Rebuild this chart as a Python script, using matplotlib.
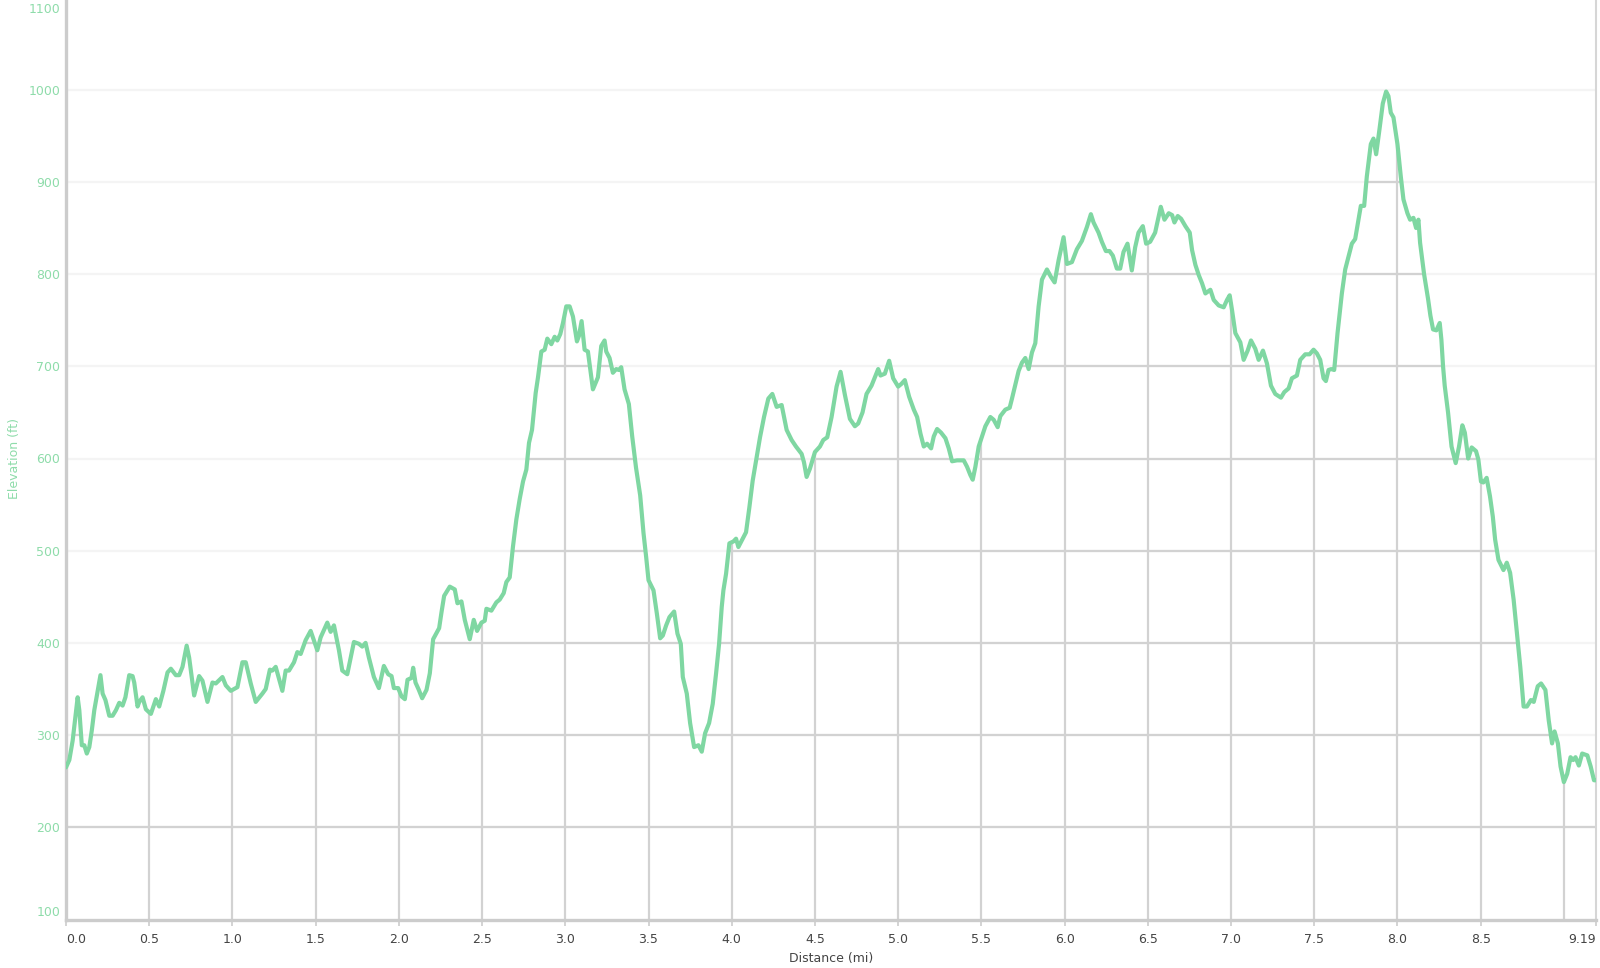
import numpy as np
import matplotlib
matplotlib.use("Agg")
import matplotlib.pyplot as plt
from matplotlib.patches import Polygon
from matplotlib.transforms import ScaledTranslation

# ---- data (distance in miles, elevation in feet) ----
distance = [
    0.00, 0.02, 0.04, 0.07, 0.08, 0.095, 0.11, 0.125, 0.14, 0.155, 0.17, 0.207, 0.22, 0.237,
    0.26, 0.28, 0.30, 0.32, 0.34, 0.357, 0.38, 0.40, 0.41, 0.43, 0.44, 0.46, 0.48, 0.51,
    0.54, 0.56, 0.585, 0.61, 0.63, 0.66, 0.68, 0.70, 0.725, 0.74, 0.77, 0.80, 0.82, 0.85,
    0.88, 0.90, 0.94, 0.96, 0.99, 1.03, 1.06, 1.08, 1.11, 1.14, 1.18, 1.20, 1.225, 1.24,
    1.26, 1.28, 1.30, 1.32, 1.34, 1.37, 1.39, 1.41, 1.44, 1.47, 1.51, 1.53, 1.57, 1.59,
    1.61, 1.64, 1.66, 1.69, 1.73, 1.76, 1.78, 1.80, 1.82, 1.85, 1.88, 1.91, 1.936, 1.956,
    1.97, 1.996, 2.016, 2.036, 2.052, 2.076, 2.086, 2.10, 2.12, 2.14, 2.166, 2.186, 2.206,
    2.242, 2.256, 2.272, 2.306, 2.336, 2.352, 2.376, 2.396, 2.426, 2.45, 2.47, 2.496, 2.516,
    2.526, 2.556, 2.586, 2.606, 2.63, 2.646, 2.666, 2.686, 2.706, 2.726, 2.746, 2.766, 2.782,
    2.80, 2.822, 2.836, 2.856, 2.876, 2.892, 2.916, 2.936, 2.952, 2.97, 2.986, 3.006, 3.026,
    3.046, 3.07, 3.082, 3.098, 3.116, 3.136, 3.166, 3.196, 3.216, 3.236, 3.246, 3.266, 3.286,
    3.306, 3.322, 3.336, 3.356, 3.382, 3.402, 3.425, 3.45, 3.47, 3.486, 3.50, 3.53, 3.55,
    3.57, 3.586, 3.606, 3.626, 3.654, 3.674, 3.694, 3.706, 3.73, 3.75, 3.774, 3.80, 3.82,
    3.84, 3.864, 3.886, 3.906, 3.924, 3.94, 3.95, 3.966, 3.986, 4.01, 4.026, 4.04, 4.06,
    4.086, 4.106, 4.126, 4.15, 4.17, 4.194, 4.22, 4.244, 4.27, 4.30, 4.33, 4.36, 4.386,
    4.42, 4.434, 4.45, 4.47, 4.50, 4.53, 4.55, 4.574, 4.60, 4.63, 4.654, 4.68, 4.71, 4.74,
    4.76, 4.786, 4.81, 4.84, 4.86, 4.88, 4.894, 4.92, 4.946, 4.97, 5.00, 5.02, 5.04, 5.066,
    5.094, 5.114, 5.134, 5.154, 5.174, 5.198, 5.214, 5.234, 5.258, 5.284, 5.304, 5.324,
    5.354, 5.394, 5.414, 5.434, 5.448, 5.464, 5.484, 5.504, 5.524, 5.554, 5.574, 5.598,
    5.614, 5.644, 5.67, 5.684, 5.704, 5.724, 5.744, 5.764, 5.784, 5.804, 5.824, 5.844,
    5.864, 5.894, 5.918, 5.94, 5.964, 5.994, 6.014, 6.044, 6.074, 6.104, 6.134, 6.158,
    6.174, 6.204, 6.224, 6.248, 6.27, 6.29, 6.314, 6.334, 6.354, 6.378, 6.404, 6.424,
    6.444, 6.47, 6.49, 6.514, 6.544, 6.578, 6.60, 6.626, 6.646, 6.66, 6.68, 6.70, 6.726,
    6.752, 6.766, 6.786, 6.806, 6.826, 6.846, 6.876, 6.896, 6.926, 6.956, 6.976, 6.992,
    7.006, 7.026, 7.056, 7.076, 7.10, 7.12, 7.146, 7.166, 7.192, 7.216, 7.24, 7.266, 7.30,
    7.32, 7.346, 7.366, 7.396, 7.416, 7.446, 7.472, 7.496, 7.516, 7.536, 7.556, 7.57,
    7.586, 7.602, 7.62, 7.64, 7.666, 7.686, 7.706, 7.726, 7.746, 7.766, 7.78, 7.80, 7.816,
    7.84, 7.856, 7.872, 7.892, 7.912, 7.932, 7.946, 7.96, 7.976, 8.00, 8.02, 8.036, 8.06,
    8.076, 8.096, 8.112, 8.126, 8.136, 8.16, 8.184, 8.198, 8.214, 8.234, 8.254, 8.264,
    8.274, 8.284, 8.304, 8.325, 8.35, 8.37, 8.39, 8.405, 8.425, 8.446, 8.472, 8.486, 8.502,
    8.516, 8.536, 8.556, 8.573, 8.587, 8.607, 8.637, 8.657, 8.677, 8.698, 8.718, 8.738,
    8.758, 8.778, 8.802, 8.819, 8.843, 8.863, 8.889, 8.909, 8.929, 8.944, 8.964, 8.98,
    9.00, 9.02, 9.04, 9.056, 9.07, 9.09, 9.11, 9.141, 9.161, 9.181, 9.19,
]
elevation = [
    265, 273, 294, 341, 327, 289, 289, 280, 287, 305, 327, 365, 345, 338,
    321, 321, 327, 335, 332, 341, 365, 364, 357, 331, 336, 341, 328, 323,
    339, 331, 348, 368, 372, 365, 365, 374, 397, 384, 343, 364, 359, 336,
    357, 356, 363, 354, 348, 352, 379, 379, 356, 336, 345, 350, 371, 370,
    374, 361, 348, 370, 370, 379, 390, 388, 403, 413, 392, 406, 422, 412,
    419, 392, 370, 366, 401, 399, 396, 400, 384, 363, 351, 375, 366, 364,
    351, 351, 342, 339, 360, 362, 373, 357, 349, 340, 349, 367, 404,
    416, 433, 451, 461, 458, 443, 445, 425, 404, 425, 413, 422, 424,
    437, 435, 444, 447, 454, 466, 471, 505, 534, 556, 575, 588, 617,
    631, 671, 688, 716, 718, 730, 724, 732, 728, 735, 747, 765, 765,
    754, 727, 733, 749, 718, 716, 675, 688, 722, 728, 716, 709, 693,
    697, 696, 699, 675, 659, 624, 590, 560, 519, 493, 468, 457, 432,
    405, 408, 419, 428, 434, 410, 399, 363, 345, 313, 287, 289, 282,
    302, 313, 334, 367, 399, 439, 457, 475, 508, 510, 513, 504, 511,
    520, 547, 576, 602, 623, 645, 665, 670, 656, 658, 631, 620, 613,
    605, 596, 580, 589, 607, 613, 620, 623, 645, 678, 694, 669, 643, 635,
    638, 650, 670, 679, 688, 697, 690, 692, 706, 687, 678, 681, 685, 667,
    653, 645, 627, 613, 616, 611, 624, 632, 628, 622, 611, 597,
    598, 598, 591, 582, 577, 591, 613, 624, 635, 645, 642, 634,
    646, 653, 655, 665, 680, 695, 704, 709, 697, 715, 725, 765,
    794, 805, 797, 791, 815, 840, 811, 813, 827, 836, 851, 865,
    856, 845, 835, 825, 825, 820, 806, 806, 824, 833, 804, 829,
    845, 852, 833, 835, 845, 873, 859, 866, 864, 856, 863, 860, 852,
    845, 826, 810, 799, 790, 779, 783, 772, 766, 764, 772, 777,
    761, 736, 726, 707, 717, 728, 719, 707, 717, 703, 679, 670, 666,
    672, 676, 687, 690, 707, 713, 713, 718, 714, 707, 687, 684,
    696, 697, 696, 736, 779, 805, 819, 833, 838, 859, 874, 874, 906,
    941, 947, 930, 957, 985, 998, 993, 975, 970, 941, 906, 881, 866,
    859, 861, 850, 859, 834, 800, 773, 755, 740, 739, 747, 729,
    700, 679, 650, 613, 595, 613, 636, 628, 600, 612, 608, 599, 575,
    574, 579, 559, 537, 512, 490, 479, 487, 476, 447, 411, 374,
    331, 331, 338, 336, 353, 356, 349, 316, 291, 304, 291, 266,
    249, 258, 276, 273, 276, 267, 280, 278, 266, 251, 251,
]

y_ticks = [100, 200, 300, 400, 500, 600, 700, 800, 900, 1000, 1100]
x_ticks = [0.0, 0.5, 1.0, 1.5, 2.0, 2.5, 3.0, 3.5, 4.0, 4.5, 5.0, 5.5, 6.0, 6.5,
           7.0, 7.5, 8.0, 8.5, 9.19]
x_tick_labels = ["0.0", "0.5", "1.0", "1.5", "2.0", "2.5", "3.0", "3.5", "4.0", "4.5",
                 "5.0", "5.5", "6.0", "6.5", "7.0", "7.5", "8.0", "8.5", "9.19"]
x_grid = [0.5, 1.0, 1.5, 2.0, 2.5, 3.0, 3.5, 4.0, 4.5, 5.0, 5.5, 6.0, 6.5, 7.0,
          7.5, 8.0, 8.5, 9.0]

# ---- styling ----
LINE_GREEN = "#7fd7a2"
LABEL_GREEN = "#8edcaa"
GRID_DARK = "#d2d2d2"
GRID_FAINT = "#f4f4f4"
AXIS_GRAY = "#cccccc"

plt.rcParams["font.family"] = ["DejaVu Sans"]

fig = plt.figure(figsize=(16, 9.68), dpi=100)
ax = fig.add_axes([66 / 1600, 48.5 / 968, 1529.5 / 1600, 922 / 968])

ax.set_xlim(0, 9.19)
ax.set_ylim(100, 1100)

# faint horizontal grid everywhere
for yv in y_ticks[1:-1]:
    ax.axhline(yv, color=GRID_FAINT, lw=1.6, zorder=0.5)

# area under the curve used as clip for darker grid
xs = np.asarray(distance)
ys = np.asarray(elevation)
verts = np.column_stack([np.r_[xs, xs[-1], xs[0]], np.r_[ys, 100, 100]])
poly = Polygon(verts, closed=True, facecolor="none", edgecolor="none",
               transform=ax.transData)
ax.add_patch(poly)

for yv in y_ticks[1:-1]:
    ln = ax.axhline(yv, color=GRID_DARK, lw=1.6, zorder=1)
    ln.set_clip_path(poly)
for xv in x_grid:
    ln = ax.axvline(xv, color=GRID_DARK, lw=1.6, zorder=1)
    ln.set_clip_path(poly)

ax.plot(distance, elevation, color=LINE_GREEN, lw=3.0, solid_joinstyle="round",
        solid_capstyle="round", zorder=3)

# spines
ax.spines["top"].set_visible(False)
ax.spines["left"].set_color(AXIS_GRAY)
ax.spines["left"].set_linewidth(2.4)
ax.spines["bottom"].set_color(AXIS_GRAY)
ax.spines["bottom"].set_linewidth(2.4)
ax.spines["right"].set_color("#d6d6d6")
ax.spines["right"].set_linewidth(1.5)

# ticks
ax.set_xticks(x_ticks)
ax.set_xticklabels(x_tick_labels)
ax.set_yticks(y_ticks)
ax.set_yticklabels([str(v) for v in y_ticks])
ax.tick_params(axis="x", length=4, width=1.2, color=AXIS_GRAY, pad=6,
               labelsize=9, labelcolor="#444444")
ax.tick_params(axis="y", length=0, pad=4, labelsize=9, labelcolor=LABEL_GREEN)

xl = ax.get_xticklabels()
xl[0].set_ha("left")
xl[-1].set_ha("right")
yl = ax.get_yticklabels()
yl[0].set_va("bottom")
yl[-1].set_va("top")
yl[-1].set_transform(yl[-1].get_transform() +
                     ScaledTranslation(0, -4 / 72, fig.dpi_scale_trans))

ax.set_xlabel("Distance (mi)", fontsize=9, color="#444444", labelpad=4)
ax.set_ylabel("Elevation (ft)", fontsize=9, color=LABEL_GREEN)
ax.yaxis.set_label_coords(-45 / 1529.5, 0.5)

fig.savefig("out.png", dpi=100, facecolor="white")
